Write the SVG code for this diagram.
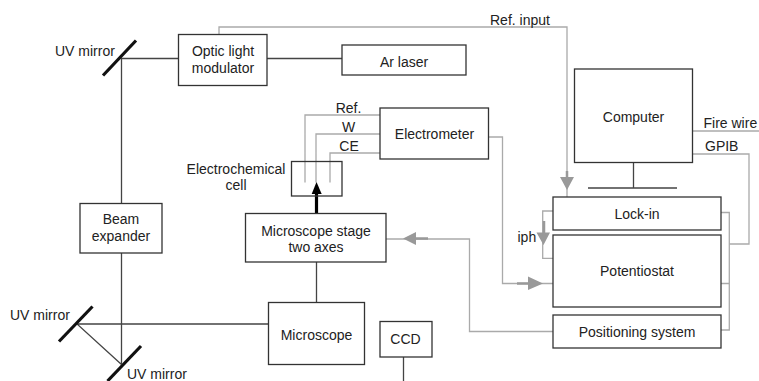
<svg xmlns="http://www.w3.org/2000/svg" width="759" height="381" viewBox="0 0 759 381">
<style>
.box{fill:#fff;stroke:#333;stroke-width:1.3}
.beam{fill:none;stroke:#444;stroke-width:1.3}
.sig{fill:none;stroke:#aaa;stroke-width:1.3}
.mirror{fill:none;stroke:#111;stroke-width:3.2}
.ah{fill:#999;stroke:none}
text{font-family:"Liberation Sans",Arial,sans-serif;font-size:14px;fill:#222}
.m{text-anchor:middle}
</style>
<rect width="759" height="381" fill="#fff"/>
<g id="connectors">
<path class="beam" d="M178.500 58.500H121.500V364.500M267 58.500H342M268.500 324H77L121.500 364.500M316.500 262V302.500M403.500 357V381M633.500 162.500V188M588 188H677"/>
<path class="sig" d="M219 34.500V27H567V197"/>
<path class="sig" d="M380 115H305V182.500M380 134H316V182.500M380 153H330V182.500"/>
<path class="sig" d="M488.500 137H502.500V283.500H553"/>
<path class="sig" d="M692.500 131H759M692.500 154H749V244H729M721 212.500H729.300V330H721M721 283.500H729"/>
<path class="sig" d="M553 211H542.700V258.300H553M544 221V240"/>
<path class="sig" d="M553 331.500H469.500V239H386"/>
<path class="ah" d="M560 177H574L567 190ZM536.500 232.500H550L543.500 245ZM528 276.500V290L543 283.500ZM403 238.500L416 232V245Z"/>
<path fill="none" stroke="#999" stroke-width="2.500" d="M567 171V180M544 221V236M517 283.500H532M410 238.500H428"/>
<path d="M316.500 213.500V190" fill="none" stroke="#000" stroke-width="3.200"/>
<path d="M311.700 194L316.500 182L321.700 194Z" fill="#000"/>
</g>
<g id="uv-mirror-1"><path class="mirror" d="M103 75.500L136 40.500"/><text x="55" y="56">UV mirror</text></g>
<g id="uv-mirror-2"><path class="mirror" d="M59 341.500L92.500 306.500"/><text x="10" y="320">UV mirror</text></g>
<g id="uv-mirror-3"><path class="mirror" d="M107.500 381L141 346"/><text x="127" y="379">UV mirror</text></g>
<g id="optic-light-modulator"><rect class="box" x="178.500" y="34.500" width="88.500" height="51"/><text class="m" x="223" y="56">Optic light</text><text class="m" x="223" y="72.500">modulator</text></g>
<g id="ar-laser"><rect class="box" x="342" y="45" width="124" height="30"/><text class="m" x="404" y="66.500">Ar laser</text></g>
<g id="electrometer"><rect class="box" x="380" y="108" width="108.500" height="51"/><text class="m" x="434.500" y="139">Electrometer</text></g>
<g id="electrochemical-cell"><rect x="291.500" y="161.500" width="50.500" height="34.500" fill="none" stroke="#333" stroke-width="1.300"/><text class="m" x="236" y="174">Electrochemical</text><text class="m" x="236" y="190">cell</text></g>
<g id="cell-labels"><text class="m" x="348.500" y="113">Ref.</text><text class="m" x="348.500" y="132">W</text><text class="m" x="349" y="151">CE</text></g>
<g id="microscope-stage"><rect class="box" x="245.500" y="213.500" width="140.500" height="48.500"/><text class="m" x="316" y="236">Microscope stage</text><text class="m" x="316" y="252">two axes</text></g>
<g id="beam-expander"><rect class="box" x="80" y="203.500" width="82" height="49.500"/><text class="m" x="121" y="224">Beam</text><text class="m" x="121" y="241">expander</text></g>
<g id="microscope"><rect class="box" x="268.500" y="302.500" width="96" height="62"/><text class="m" x="316.500" y="340">Microscope</text></g>
<g id="ccd"><rect class="box" x="380" y="321.500" width="52" height="35.500"/><text class="m" x="405.500" y="344">CCD</text></g>
<g id="computer"><rect class="box" x="574.500" y="69" width="118" height="93.500"/><text class="m" x="633.500" y="121.500">Computer</text></g>
<g id="lock-in"><rect class="box" x="553" y="197" width="168" height="33"/><text class="m" x="637" y="219">Lock-in</text></g>
<g id="potentiostat"><rect class="box" x="553" y="235" width="168" height="72"/><text class="m" x="637" y="276">Potentiostat</text></g>
<g id="positioning-system"><rect class="box" x="553" y="315" width="168" height="33"/><text class="m" x="637" y="337">Positioning system</text></g>
<g id="labels"><text x="490" y="25">Ref. input</text><text x="703.500" y="127.500">Fire wire</text><text x="705" y="150.500">GPIB</text><text x="517.500" y="241.500">iph</text></g>
</svg>
